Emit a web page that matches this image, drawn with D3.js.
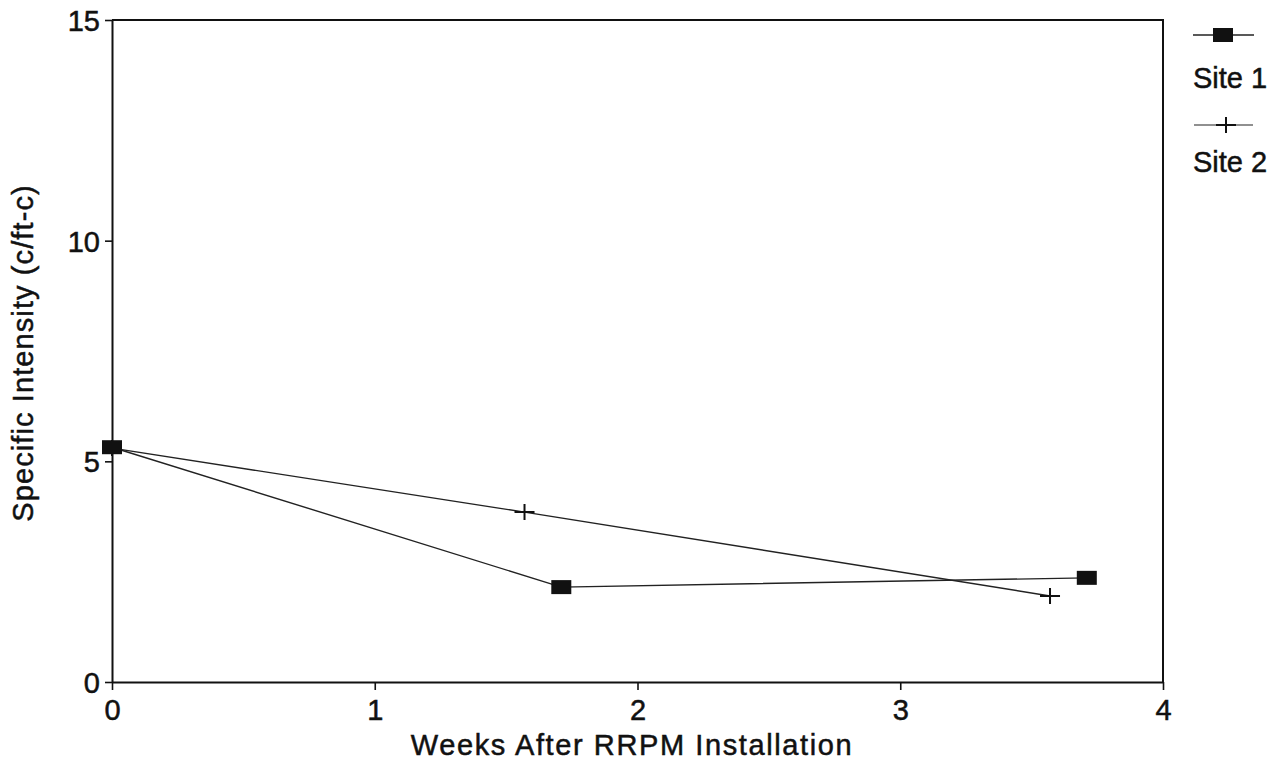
<!DOCTYPE html>
<html>
<head>
<meta charset="utf-8">
<script src="https://cdn.jsdelivr.net/npm/d3@7/dist/d3.min.js"></script>
<style>
  html, body { margin: 0; padding: 0; background: #fff; }
  svg { display: block; }
  text { font-family: "Liberation Sans", Arial, Helvetica, sans-serif; fill: #111; stroke: #111; stroke-width: 0.5px; }
</style>
</head>
<body>
<svg id="chart" width="1288" height="768"></svg>
<script>
// ---- data ----
const xTicks = [0, 1, 2, 3, 4];
const yTicks = [0, 5, 10, 15];
const site1Weeks = [0, 1.71, 3.71];
const site1Values = [5.32, 2.15, 2.36];
const site2Weeks = [0, 1.57, 3.57];
const site2Values = [5.30, 3.85, 1.95];
const seriesNames = ["Site 1", "Site 2"];
const xTitle = "Weeks After RRPM Installation";
const yTitle = "Specific Intensity (c/ft-c)";

// ---- layout ----
const svg = d3.select("#chart");
const mLeft = 112, mRight = 1163, mTop = 20, mBottom = 682;
const x = d3.scaleLinear().domain([0, 4]).range([mLeft, mRight]);
const y = d3.scaleLinear().domain([0, 15]).range([mBottom, mTop]);
const ink = "#111";
const fs = "29px";

// frame (top and right)
svg.append("path")
  .attr("d", `M${mLeft},${mTop} H${mRight} V${mBottom}`)
  .attr("fill", "none").attr("stroke", ink).attr("stroke-width", 2);

// x axis
const gx = svg.append("g").attr("transform", `translate(0,${mBottom})`)
  .call(d3.axisBottom(x).tickValues(xTicks).tickFormat(d3.format("d")).tickSize(8).tickSizeOuter(0));
gx.select(".domain").attr("stroke", ink).attr("stroke-width", 2);
gx.selectAll(".tick line").attr("stroke", ink).attr("stroke-width", 1.6);
gx.selectAll(".tick text").attr("y", 38).attr("dy", 0)
  .style("font-size", fs).style("font-family", "'Liberation Sans', Arial, sans-serif").attr("fill", ink);

// y axis
const gy = svg.append("g").attr("transform", `translate(${mLeft},0)`)
  .call(d3.axisLeft(y).tickValues(yTicks).tickFormat(d3.format("d")).tickSize(7).tickPadding(5).tickSizeOuter(0));
gy.select(".domain").attr("stroke", ink).attr("stroke-width", 2);
gy.selectAll(".tick line").attr("stroke", ink).attr("stroke-width", 1.6);
gy.selectAll(".tick text").attr("dy", "0.36em")
  .style("font-size", fs).style("font-family", "'Liberation Sans', Arial, sans-serif").attr("fill", ink);

// axis titles
svg.append("text")
  .attr("x", 632).attr("y", 755)
  .attr("text-anchor", "middle")
  .style("font-size", fs).style("letter-spacing", "1.6px")
  .text(xTitle);

svg.append("text")
  .attr("transform", `translate(33,353) rotate(-90)`)
  .attr("text-anchor", "middle")
  .style("font-size", fs).style("letter-spacing", "1.1px")
  .text(yTitle);

// lines
const line = d3.line().x(d => x(d[0])).y(d => y(d[1]));
const s1 = site1Weeks.map((w, i) => [w, site1Values[i]]);
const s2 = site2Weeks.map((w, i) => [w, site2Values[i]]);

svg.append("path").datum(s2).attr("d", line)
  .attr("fill", "none").attr("stroke", "#222").attr("stroke-width", 1.4);
svg.append("path").datum(s1).attr("d", line)
  .attr("fill", "none").attr("stroke", "#222").attr("stroke-width", 1.4);

// markers
function square(g, cx, cy) {
  g.append("rect").attr("x", cx - 10).attr("y", cy - 7).attr("width", 20).attr("height", 14).attr("fill", ink);
}
function plus(g, cx, cy) {
  g.append("path").attr("d", `M${cx - 10},${cy} H${cx + 10} M${cx},${cy - 8} V${cy + 8}`)
    .attr("stroke", ink).attr("stroke-width", 2).attr("fill", "none");
}
const m2 = svg.append("g");
s2.forEach(d => plus(m2, x(d[0]), y(d[1])));
const m1 = svg.append("g");
s1.forEach(d => square(m1, x(d[0]), y(d[1])));

// legend
const lg = svg.append("g");
lg.append("line").attr("x1", 1193).attr("x2", 1254).attr("y1", 35).attr("y2", 35)
  .attr("stroke", "#222").attr("stroke-width", 1.4);
square(lg, 1223, 35);
lg.append("text").attr("x", 1193).attr("y", 88).style("font-size", fs).text(seriesNames[0]);
lg.append("line").attr("x1", 1194).attr("x2", 1253).attr("y1", 125).attr("y2", 125)
  .attr("stroke", "#222").attr("stroke-width", 1.2);
plus(lg, 1226, 125);
lg.append("text").attr("x", 1193).attr("y", 172).style("font-size", fs).text(seriesNames[1]);
</script>
</body>
</html>
